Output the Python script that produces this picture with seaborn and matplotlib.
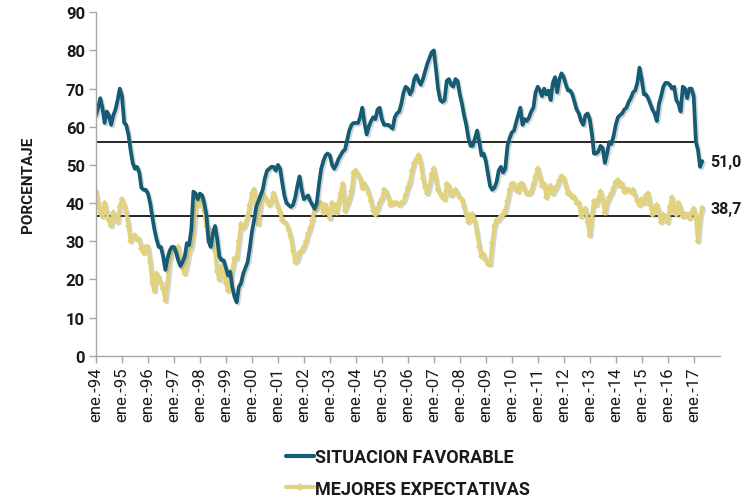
import pandas as pd
import matplotlib
matplotlib.use("Agg")
import matplotlib.pyplot as plt
import matplotlib.patheffects as pe
from matplotlib.lines import Line2D
import seaborn as sns

# monthly series, ene.-94 .. may.-17 (one row per year)
situacion_favorable = [
    63, 65, 67.5, 65, 61, 64, 63, 60.5, 63, 64.5, 67, 70,            # 1994
    68, 61, 60.5, 58, 54, 50.5, 49, 49.5, 48, 44, 43.5, 43.5,         # 1995
    42.5, 40, 36.5, 33, 30.5, 28.5, 28.5, 26, 22.5, 25.5, 27.5, 28.5, # 1996
    28.5, 27, 25, 23.5, 24.5, 26, 29.5, 29, 33, 43, 42.5, 41,         # 1997
    42.5, 42, 40, 37, 30, 28.5, 32, 34, 30.5, 26, 25, 25,             # 1998
    23, 21, 22, 18, 15.5, 14, 18, 19, 21.5, 23, 24.5, 28,             # 1999
    32.5, 35.5, 39, 40.5, 42, 43.5, 46.5, 48.5, 49, 49.5, 49.5, 48.5, # 2000
    50, 49, 45.5, 42, 40, 39.5, 39, 39.5, 41.5, 44.5, 47, 43.5,       # 2001
    41, 41.5, 42, 40.5, 39.5, 38.5, 40, 45, 49, 51, 52.5, 53,         # 2002
    52.5, 50, 49, 50, 51.5, 52.5, 53.5, 54, 56.5, 59, 60.5, 61,       # 2003
    61, 61, 62.5, 65, 61, 58, 60, 61.5, 62.5, 62, 64.5, 65,           # 2004
    62, 60.5, 60.5, 60.5, 60, 59.5, 62.5, 63.5, 64, 66, 69, 70.5,     # 2005
    70, 68.5, 69.5, 72.5, 73.5, 72, 71, 72.5, 74.5, 76.5, 78, 79.5,   # 2006
    80, 75, 70, 67, 66.5, 67, 72, 72.5, 71, 70.5, 72.5, 72,           # 2007
    68.5, 66, 63, 60.5, 57, 55, 55, 57, 59, 56, 52.5, 53,             # 2008
    51, 47.5, 44.5, 43.5, 44, 45.5, 48.5, 49.5, 48, 49, 55, 57,       # 2009
    58.5, 59, 61, 63, 65, 60.5, 62, 61.5, 62.5, 64, 65, 69,           # 2010
    70.5, 69.5, 68, 70, 68.5, 69.5, 67, 71.5, 73, 69, 72.5, 74,       # 2011
    73, 71, 69.5, 69.5, 68.5, 66.5, 64.5, 63.5, 61.5, 60.5, 63, 63.5, # 2012
    62, 58, 53, 53, 53.5, 55, 54.5, 50.5, 53, 56, 55.5, 57.5,         # 2013
    60.5, 62.5, 63, 63.5, 64.5, 65, 66.5, 67.5, 69, 69.5, 71.5, 75.5, # 2014
    72.5, 68.5, 68.5, 67.5, 66, 64.5, 63.5, 61.5, 66, 68, 70.5, 71.5, # 2015
    71.5, 71, 70, 70.5, 67, 66, 64, 70.5, 70, 67.5, 70, 70,           # 2016
    68, 56, 54, 49.5, 51.0,                                           # 2017
]
mejores_expectativas = [
    43, 39.5, 37.5, 36.5, 40, 37.5, 35.5, 34, 37.5, 36, 35, 39,       # 1994
    41, 39.5, 37.5, 34, 30, 31, 31.5, 30.5, 30.5, 28, 27, 28.5,       # 1995
    28.5, 24.5, 19, 17, 21.5, 20.5, 19, 17.5, 14.5, 19, 25, 27,       # 1996
    28, 28, 28.5, 25, 23, 21.5, 24, 27, 28.5, 32, 39, 41,             # 1997
    39.5, 41, 38, 34, 32.5, 33, 29, 27.5, 22, 20, 23.5, 22,           # 1998
    19, 17, 19.5, 22.5, 25.5, 25.5, 30, 34.5, 33.5, 34.5, 36.5, 39.5, # 1999
    42.5, 43.5, 40, 34.5, 39.5, 42.5, 41.5, 40.5, 39.5, 40.5, 42.5, 40.5,  # 2000
    39, 37.5, 35.5, 35, 34.5, 33, 31, 27.5, 24.5, 25, 27, 27.5,       # 2001
    28.5, 30, 32, 33.5, 35.5, 39, 38.5, 40, 40, 37.5, 39.5, 38,       # 2002
    36, 40, 39.5, 37.5, 40, 42.5, 45, 38, 39.5, 41, 43, 48,           # 2003
    48.5, 47.5, 46.5, 44, 45, 44, 42.5, 40.5, 38, 37, 38.5, 40,       # 2004
    41, 43.5, 43, 41.5, 39.5, 40, 40, 40, 39.5, 40, 40.5, 42,         # 2005
    44, 45.5, 48.5, 50.5, 51.5, 52.5, 50.5, 46.5, 44, 42.5, 44.5, 47.5,  # 2006
    49, 46, 43.5, 42.5, 41.5, 41, 45, 44.5, 42, 42.5, 43.5, 42.5,     # 2007
    41.5, 41, 39, 37, 35, 37, 37, 35, 32, 28.5, 26, 26.5,             # 2008
    25, 24, 24, 29.5, 34, 35.5, 35.5, 36.5, 37, 38, 40.5, 43.5,       # 2009
    45, 45, 43.5, 43, 45, 45, 43.5, 42.5, 42.5, 43, 45, 47,           # 2010
    49, 47, 44.5, 45, 41.5, 44, 44.5, 42.5, 43.5, 44.5, 46, 47,       # 2011
    46.5, 44.5, 42.5, 42.5, 41.5, 41.5, 40, 40, 36.5, 38, 38.5, 35,   # 2012
    31.5, 37, 40.5, 39.5, 41, 43, 41, 37.5, 40, 41.5, 42.5, 44,       # 2013
    45.5, 46, 44.5, 45, 43, 43.5, 43.5, 43, 43.5, 42, 40.5, 39.5,     # 2014
    41, 40, 42, 42.5, 39.5, 37, 38.5, 39.5, 37.5, 35, 37, 36.5,       # 2015
    35, 39, 41.5, 38, 37, 40, 38.5, 36.5, 37, 37, 36, 37.5,           # 2016
    38.5, 36, 30, 36.5, 38.7,                                         # 2017
]
# historical averages drawn as black reference lines
promedio_favorable = 56.0
promedio_expectativas = 36.5

etiqueta_fav = "SITUACION FAVORABLE"
etiqueta_exp = "MEJORES EXPECTATIVAS"
color_fav = "#165b74"
color_exp = "#e0d27e"
color_texto = "#1a1a1a"

fechas = pd.date_range("1994-01-01", periods=len(situacion_favorable), freq="MS")
df = pd.DataFrame({"fecha": fechas,
                   "fav": situacion_favorable,
                   "exp": mejores_expectativas})

sns.set_style("white")
plt.rcParams["font.family"] = ["Roboto", "DejaVu Sans"]

fig = plt.figure(figsize=(7.52, 5.02), dpi=100)
ax = fig.add_axes([0.1277, 0.2894, 0.8293, 0.6841])

sombra = [pe.SimpleLineShadow(offset=(1.2, -1.2), shadow_color="#7f8c90", alpha=0.35),
          pe.Normal()]

sns.lineplot(data=df, x="fecha", y="exp", ax=ax, color=color_exp, linewidth=2.8,
             marker="D", markersize=3.4, markeredgewidth=0, path_effects=sombra)
sns.lineplot(data=df, x="fecha", y="fav", ax=ax, color=color_fav, linewidth=2.7,
             path_effects=sombra)

fin_lineas = pd.Timestamp("2017-01-01")
ax.hlines([promedio_favorable, promedio_expectativas], fechas[0], fin_lineas,
          color="black", linewidth=1.2, zorder=1)

for serie in (situacion_favorable, mejores_expectativas):
    ax.annotate(f"{serie[-1]:.1f}".replace(".", ","),
                xy=(fechas[-1], serie[-1]), xytext=(6, 0),
                textcoords="offset points", va="center", ha="left",
                fontsize=11.5, fontweight="bold", color=color_texto)

# axes
ax.set_xlim(pd.Timestamp("1994-01-01"), pd.Timestamp("2018-01-01"))
ax.set_ylim(0, 90)
ax.set_yticks(range(0, 91, 10))
ax.set_yticklabels([str(v) for v in range(0, 91, 10)], fontsize=12,
                   fontweight="bold", color=color_texto)
anios = pd.date_range("1994-01-01", "2017-01-01", freq="YS")
ax.set_xticks(anios)
ax.set_xticklabels([f"ene.-{a.year % 100:02d}" for a in anios], rotation=90,
                   fontsize=12, color=color_texto)
ax.set_xlabel("")
ax.set_ylabel("PORCENTAJE", fontsize=11, fontweight="bold", color=color_texto,
              labelpad=22)

for lado in ["top", "right"]:
    ax.spines[lado].set_visible(False)
for lado in ["left", "bottom"]:
    ax.spines[lado].set_color("#a6a6a6")
    ax.spines[lado].set_linewidth(1)
ax.tick_params(axis="both", direction="out", length=5, width=1, color="#a6a6a6",
               left=True, bottom=True, pad=3)

manijas = [Line2D([], [], color=color_fav, linewidth=3),
           Line2D([], [], color=color_exp, linewidth=3, marker="D", markersize=4,
                  markeredgewidth=0)]
fig.legend(manijas, [etiqueta_fav, etiqueta_exp], loc="center",
           bbox_to_anchor=(0.543, 1 - 474 / 502), frameon=False,
           prop={"size": 13, "weight": "bold"}, handlelength=1.5,
           handletextpad=0.1, labelspacing=0.75, labelcolor=color_texto)

fig.savefig("out.png", dpi=100)
